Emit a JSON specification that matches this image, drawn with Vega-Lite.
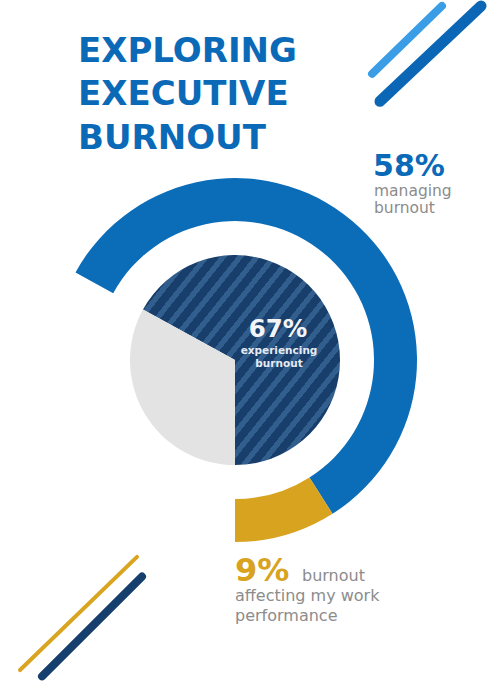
{
  "$schema": "https://vega.github.io/schema/vega-lite/v6.json",
  "width": 503,
  "height": 681,
  "autosize": {"type": "fit", "contains": "padding"},
  "padding": 0,
  "background": "#ffffff",
  "config": {"view": {"stroke": null}},
  "layer": [
    {
      "data": {"values": [{"part": "managing burnout", "pct": 58, "k": 1}, {"part": "burnout affecting my work performance", "pct": 9, "k": 2}]},
      "mark": {"type": "arc", "radius": 182, "radius2": 139},
      "encoding": {
        "x": {"datum": 46.72, "type": "quantitative", "scale": {"domain": [0, 100], "nice": false, "zero": false}, "axis": null},
        "y": {"datum": 53.3, "type": "quantitative", "scale": {"domain": [0, 100], "nice": false, "zero": false, "reverse": true}, "axis": null},
        "theta": {"field": "pct", "type": "quantitative", "stack": true, "scale": {"domain": [0, 100], "range": [-1.0681, 5.2151]}},
        "order": {"field": "k", "type": "quantitative"},
        "color": {"field": "part", "type": "nominal", "scale": {"domain": ["managing burnout", "burnout affecting my work performance"], "range": ["#0b6cb8", "#d8a31f"]}, "legend": null}
      }
    },
    {
      "data": {"values": [{"part": "experiencing burnout", "pct": 67, "k": 1}, {"part": "not experiencing burnout", "pct": 33, "k": 2}]},
      "mark": {"type": "arc", "radius": 105},
      "encoding": {
        "x": {"datum": 46.72, "type": "quantitative", "scale": {"domain": [0, 100], "nice": false, "zero": false}, "axis": null},
        "y": {"datum": 53.3, "type": "quantitative", "scale": {"domain": [0, 100], "nice": false, "zero": false, "reverse": true}, "axis": null},
        "theta": {"field": "pct", "type": "quantitative", "stack": true, "scale": {"domain": [0, 100], "range": [-1.0681, 5.2151]}},
        "order": {"field": "k", "type": "quantitative"},
        "fill": {
          "condition": {"test": "datum.k === 2", "value": "#e3e3e3"},
          "value": {
            "gradient": "linear", "x1": 0, "y1": 0, "x2": 1, "y2": 0.85,
            "stops": [
              {"offset": 0, "color": "#183f6b"}, {"offset": 0.03, "color": "#183f6b"}, {"offset": 0.03, "color": "#325e8d"}, {"offset": 0.05, "color": "#325e8d"},
              {"offset": 0.05, "color": "#183f6b"}, {"offset": 0.08, "color": "#183f6b"}, {"offset": 0.08, "color": "#325e8d"}, {"offset": 0.10, "color": "#325e8d"},
              {"offset": 0.10, "color": "#183f6b"}, {"offset": 0.13, "color": "#183f6b"}, {"offset": 0.13, "color": "#325e8d"}, {"offset": 0.15, "color": "#325e8d"},
              {"offset": 0.15, "color": "#183f6b"}, {"offset": 0.18, "color": "#183f6b"}, {"offset": 0.18, "color": "#325e8d"}, {"offset": 0.20, "color": "#325e8d"},
              {"offset": 0.20, "color": "#183f6b"}, {"offset": 0.23, "color": "#183f6b"}, {"offset": 0.23, "color": "#325e8d"}, {"offset": 0.25, "color": "#325e8d"},
              {"offset": 0.25, "color": "#183f6b"}, {"offset": 0.28, "color": "#183f6b"}, {"offset": 0.28, "color": "#325e8d"}, {"offset": 0.30, "color": "#325e8d"},
              {"offset": 0.30, "color": "#183f6b"}, {"offset": 0.33, "color": "#183f6b"}, {"offset": 0.33, "color": "#325e8d"}, {"offset": 0.35, "color": "#325e8d"},
              {"offset": 0.35, "color": "#183f6b"}, {"offset": 0.38, "color": "#183f6b"}, {"offset": 0.38, "color": "#325e8d"}, {"offset": 0.40, "color": "#325e8d"},
              {"offset": 0.40, "color": "#183f6b"}, {"offset": 0.43, "color": "#183f6b"}, {"offset": 0.43, "color": "#325e8d"}, {"offset": 0.45, "color": "#325e8d"},
              {"offset": 0.45, "color": "#183f6b"}, {"offset": 0.48, "color": "#183f6b"}, {"offset": 0.48, "color": "#325e8d"}, {"offset": 0.50, "color": "#325e8d"},
              {"offset": 0.50, "color": "#183f6b"}, {"offset": 0.53, "color": "#183f6b"}, {"offset": 0.53, "color": "#325e8d"}, {"offset": 0.55, "color": "#325e8d"},
              {"offset": 0.55, "color": "#183f6b"}, {"offset": 0.58, "color": "#183f6b"}, {"offset": 0.58, "color": "#325e8d"}, {"offset": 0.60, "color": "#325e8d"},
              {"offset": 0.60, "color": "#183f6b"}, {"offset": 0.63, "color": "#183f6b"}, {"offset": 0.63, "color": "#325e8d"}, {"offset": 0.65, "color": "#325e8d"},
              {"offset": 0.65, "color": "#183f6b"}, {"offset": 0.68, "color": "#183f6b"}, {"offset": 0.68, "color": "#325e8d"}, {"offset": 0.70, "color": "#325e8d"},
              {"offset": 0.70, "color": "#183f6b"}, {"offset": 0.73, "color": "#183f6b"}, {"offset": 0.73, "color": "#325e8d"}, {"offset": 0.75, "color": "#325e8d"},
              {"offset": 0.75, "color": "#183f6b"}, {"offset": 0.78, "color": "#183f6b"}, {"offset": 0.78, "color": "#325e8d"}, {"offset": 0.80, "color": "#325e8d"},
              {"offset": 0.80, "color": "#183f6b"}, {"offset": 0.83, "color": "#183f6b"}, {"offset": 0.83, "color": "#325e8d"}, {"offset": 0.85, "color": "#325e8d"},
              {"offset": 0.85, "color": "#183f6b"}, {"offset": 0.88, "color": "#183f6b"}, {"offset": 0.88, "color": "#325e8d"}, {"offset": 0.90, "color": "#325e8d"},
              {"offset": 0.90, "color": "#183f6b"}, {"offset": 0.93, "color": "#183f6b"}, {"offset": 0.93, "color": "#325e8d"}, {"offset": 0.95, "color": "#325e8d"},
              {"offset": 0.95, "color": "#183f6b"}, {"offset": 0.98, "color": "#183f6b"}, {"offset": 0.98, "color": "#325e8d"}, {"offset": 1, "color": "#325e8d"}
            ]
          }
        }
      }
    },
    {
      "data": {"values": [{"x": 73.96, "y": 10.57, "x2": 87.87, "y2": 0.44}]},
      "mark": {"type": "rule", "color": "#3a9de6", "strokeWidth": 8, "strokeCap": "round"},
      "encoding": {
        "x": {"field": "x", "type": "quantitative", "scale": {"domain": [0, 100], "nice": false, "zero": false}, "axis": null},
        "y": {"field": "y", "type": "quantitative", "scale": {"domain": [0, 100], "nice": false, "zero": false, "reverse": true}, "axis": null},
        "x2": {"field": "x2"}, "y2": {"field": "y2"}
      }
    },
    {
      "data": {"values": [{"x": 75.55, "y": 14.68, "x2": 95.63, "y2": 0.44}]},
      "mark": {"type": "rule", "color": "#0b67b5", "strokeWidth": 11, "strokeCap": "round"},
      "encoding": {
        "x": {"field": "x", "type": "quantitative", "scale": {"domain": [0, 100], "nice": false, "zero": false}, "axis": null},
        "y": {"field": "y", "type": "quantitative", "scale": {"domain": [0, 100], "nice": false, "zero": false, "reverse": true}, "axis": null},
        "x2": {"field": "x2"}, "y2": {"field": "y2"}
      }
    },
    {
      "data": {"values": [{"x": 3.98, "y": 99.56, "x2": 27.24, "y2": 82.67}]},
      "mark": {"type": "rule", "color": "#d9a521", "strokeWidth": 4, "strokeCap": "round"},
      "encoding": {
        "x": {"field": "x", "type": "quantitative", "scale": {"domain": [0, 100], "nice": false, "zero": false}, "axis": null},
        "y": {"field": "y", "type": "quantitative", "scale": {"domain": [0, 100], "nice": false, "zero": false, "reverse": true}, "axis": null},
        "x2": {"field": "x2"}, "y2": {"field": "y2"}
      }
    },
    {
      "data": {"values": [{"x": 8.35, "y": 100.5, "x2": 28.23, "y2": 85.61}]},
      "mark": {"type": "rule", "color": "#173f6e", "strokeWidth": 8, "strokeCap": "round"},
      "encoding": {
        "x": {"field": "x", "type": "quantitative", "scale": {"domain": [0, 100], "nice": false, "zero": false}, "axis": null},
        "y": {"field": "y", "type": "quantitative", "scale": {"domain": [0, 100], "nice": false, "zero": false, "reverse": true}, "axis": null},
        "x2": {"field": "x2"}, "y2": {"field": "y2"}
      }
    },
    {
      "data": {"values": [{"t": "EXPLORING", "x": 15.51, "y": 8.81}, {"t": "EXECUTIVE", "x": 15.51, "y": 15.27}, {"t": "BURNOUT", "x": 15.51, "y": 21.73}]},
      "mark": {"type": "text", "font": "DejaVu Sans", "fontWeight": "bold", "fontSize": 34, "color": "#0b6ab8", "align": "left", "baseline": "alphabetic"},
      "encoding": {
        "x": {"field": "x", "type": "quantitative", "scale": {"domain": [0, 100], "nice": false, "zero": false}, "axis": null},
        "y": {"field": "y", "type": "quantitative", "scale": {"domain": [0, 100], "nice": false, "zero": false, "reverse": true}, "axis": null},
        "text": {"field": "t"}
      }
    },
    {
      "data": {"values": [{"t": "58%", "x": 74.16, "y": 25.77}]},
      "mark": {"type": "text", "font": "DejaVu Sans", "fontWeight": "bold", "fontSize": 30, "color": "#0b6ab8", "align": "left", "baseline": "alphabetic"},
      "encoding": {
        "x": {"field": "x", "type": "quantitative", "scale": {"domain": [0, 100], "nice": false, "zero": false}, "axis": null},
        "y": {"field": "y", "type": "quantitative", "scale": {"domain": [0, 100], "nice": false, "zero": false, "reverse": true}, "axis": null},
        "text": {"field": "t"}
      }
    },
    {
      "data": {"values": [{"t": "managing", "x": 74.35, "y": 28.78}, {"t": "burnout", "x": 74.35, "y": 31.28}]},
      "mark": {"type": "text", "font": "DejaVu Sans", "fontSize": 15.5, "color": "#8c8c8c", "align": "left", "baseline": "alphabetic"},
      "encoding": {
        "x": {"field": "x", "type": "quantitative", "scale": {"domain": [0, 100], "nice": false, "zero": false}, "axis": null},
        "y": {"field": "y", "type": "quantitative", "scale": {"domain": [0, 100], "nice": false, "zero": false, "reverse": true}, "axis": null},
        "text": {"field": "t"}
      }
    },
    {
      "data": {"values": [{"t": "67%", "x": 55.27, "y": 49.78}]},
      "mark": {"type": "text", "font": "DejaVu Sans", "fontWeight": "bold", "fontSize": 24.5, "color": "#f2f4f7", "align": "center", "baseline": "alphabetic"},
      "encoding": {
        "x": {"field": "x", "type": "quantitative", "scale": {"domain": [0, 100], "nice": false, "zero": false}, "axis": null},
        "y": {"field": "y", "type": "quantitative", "scale": {"domain": [0, 100], "nice": false, "zero": false, "reverse": true}, "axis": null},
        "text": {"field": "t"}
      }
    },
    {
      "data": {"values": [{"t": "experiencing", "x": 55.47, "y": 52.42}, {"t": "burnout", "x": 55.47, "y": 54.33}]},
      "mark": {"type": "text", "font": "DejaVu Sans", "fontWeight": "bold", "fontSize": 10.5, "color": "#e6ebf2", "align": "center", "baseline": "alphabetic"},
      "encoding": {
        "x": {"field": "x", "type": "quantitative", "scale": {"domain": [0, 100], "nice": false, "zero": false}, "axis": null},
        "y": {"field": "y", "type": "quantitative", "scale": {"domain": [0, 100], "nice": false, "zero": false, "reverse": true}, "axis": null},
        "text": {"field": "t"}
      }
    },
    {
      "data": {"values": [{"t": "9%", "x": 46.72, "y": 86.34}]},
      "mark": {"type": "text", "font": "DejaVu Sans", "fontWeight": "bold", "fontSize": 32, "color": "#d8a31f", "align": "left", "baseline": "alphabetic"},
      "encoding": {
        "x": {"field": "x", "type": "quantitative", "scale": {"domain": [0, 100], "nice": false, "zero": false}, "axis": null},
        "y": {"field": "y", "type": "quantitative", "scale": {"domain": [0, 100], "nice": false, "zero": false, "reverse": true}, "axis": null},
        "text": {"field": "t"}
      }
    },
    {
      "data": {"values": [{"t": "burnout", "x": 60.04, "y": 86.34}, {"t": "affecting my work", "x": 46.72, "y": 89.28}, {"t": "performance", "x": 46.72, "y": 92.22}]},
      "mark": {"type": "text", "font": "DejaVu Sans", "fontSize": 16, "color": "#8c8c8c", "align": "left", "baseline": "alphabetic"},
      "encoding": {
        "x": {"field": "x", "type": "quantitative", "scale": {"domain": [0, 100], "nice": false, "zero": false}, "axis": null},
        "y": {"field": "y", "type": "quantitative", "scale": {"domain": [0, 100], "nice": false, "zero": false, "reverse": true}, "axis": null},
        "text": {"field": "t"}
      }
    }
  ]
}
